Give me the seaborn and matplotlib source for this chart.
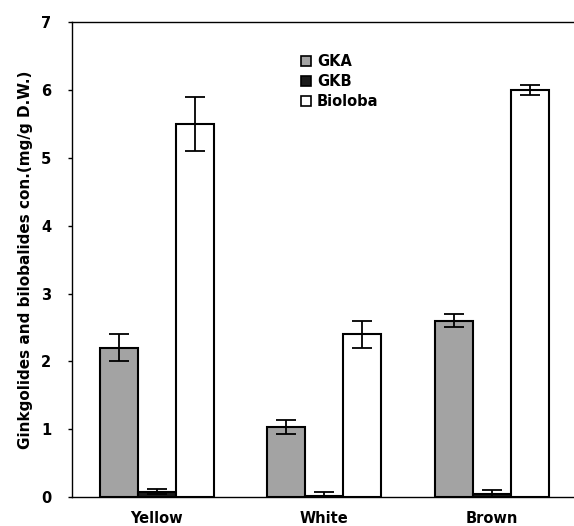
import matplotlib
matplotlib.use("Agg")
import matplotlib.pyplot as plt
import seaborn as sns
import pandas as pd
import numpy as np

categories = ["Yellow", "White", "Brown"]
series = ["GKA", "GKB", "Bioloba"]
gka = [2.2, 1.03, 2.6]
gkb = [0.08, 0.02, 0.05]
bioloba = [5.5, 2.4, 6.0]
gka_err = [0.2, 0.1, 0.1]
gkb_err = [0.04, 0.06, 0.06]
bioloba_err = [0.4, 0.2, 0.08]

values = {"GKA": gka, "GKB": gkb, "Bioloba": bioloba}
errors = {"GKA": gka_err, "GKB": gkb_err, "Bioloba": bioloba_err}
rows = []
for s in series:
    for c, v, e in zip(categories, values[s], errors[s]):
        rows.append({"cat": c, "series": s, "val": v, "err": e})
df = pd.DataFrame(rows)

sns.set_style("white")
plt.rcParams['font.family'] = ['DejaVu Sans']
plt.rcParams['text.color'] = 'black'
plt.rcParams['axes.labelcolor'] = 'black'
plt.rcParams['xtick.color'] = 'black'
plt.rcParams['ytick.color'] = 'black'
colors = {"GKA": "#a3a3a3", "GKB": "#1a1a1a", "Bioloba": "#ffffff"}

fig = plt.figure(figsize=(5.74, 5.26), dpi=100)
ax = fig.add_axes([0.1254, 0.055, 0.874, 0.903])
sns.barplot(data=df, x="cat", y="val", hue="series", order=categories,
            hue_order=series, palette=colors, width=0.68, ax=ax,
            edgecolor="black", linewidth=1.5, errorbar=None, saturation=1)

for container, s in zip(ax.containers, series):
    xs = [p.get_x() + p.get_width() / 2 for p in container.patches]
    ys = [p.get_height() for p in container.patches]
    ax.errorbar(xs, ys, yerr=errors[s], fmt="none", ecolor="black",
                elinewidth=1.3, capsize=7, capthick=1.3)

ax.set_xlim(-0.505, 2.49)
ax.set_ylim(0, 7)
ax.set_yticks(range(0, 8))
ax.set_yticklabels([str(i) for i in range(0, 8)], fontsize=10.5, fontweight="bold")
ax.set_xticks(range(3))
ax.set_xticklabels(categories, fontsize=10.5, fontweight="bold")
ax.tick_params(axis="x", length=0, pad=10)
ax.tick_params(axis="y", length=3, width=1, direction="out", pad=12, left=True)
ax.set_xlabel("")
ax.set_ylabel("Ginkgolides and bilobalides con.(mg/g D.W.)", fontsize=11,
              fontweight="bold", labelpad=6)
for sp in ["left", "bottom", "top"]:
    ax.spines[sp].set_visible(True)
    ax.spines[sp].set_color("black")
    ax.spines[sp].set_linewidth(1)
ax.spines["right"].set_visible(False)

leg = ax.legend(loc="upper left", bbox_to_anchor=(0.43, 0.96), frameon=False,
                prop={"weight": "bold", "size": 10.5}, handlelength=0.7,
                handleheight=0.7, handletextpad=0.4, labelspacing=0.35)
for h in leg.legend_handles:
    h.set_linewidth(1.2)

fig.savefig("out.png", dpi=100)
